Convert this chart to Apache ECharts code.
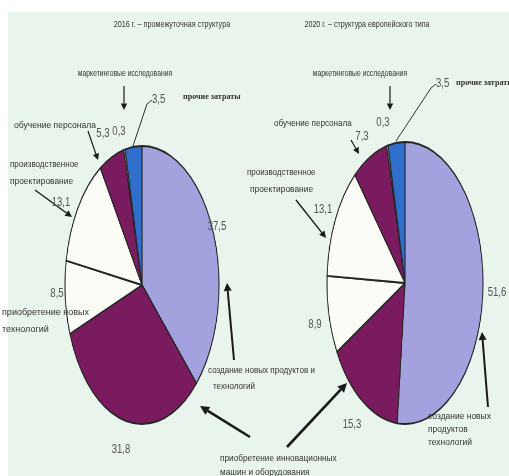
<!DOCTYPE html>
<html><head><meta charset="utf-8">
<script src="https://cdn.jsdelivr.net/npm/echarts@6/dist/echarts.min.js"></script>
<style>
html,body{margin:0;padding:0;background:#fff;}
#wrap{position:relative;width:509px;height:476px;overflow:hidden;}
#bg{position:absolute;left:8px;top:12px;right:0;bottom:0;background:#e9f4ec;}
.pie{position:absolute;width:300px;height:300px;}
#overlay{position:absolute;left:0;top:0;width:509px;height:476px;}
</style>
</head><body>
<div id="wrap">
  <div id="bg"></div>
  <div id="pie1" class="pie"></div>
  <div id="pie2" class="pie"></div>
  <div id="overlay"></div>
</div>
<script>
// ---- data ----
var categories = [
  'создание новых продуктов и технологий',
  'приобретение инновационных машин и оборудования',
  'приобретение новых технологий',
  'производственное проектирование',
  'обучение персонала',
  'маркетинговые исследования',
  'прочие затраты'
];
var values2016 = [37.5, 31.8, 8.5, 13.1, 5.3, 0.3, 3.5];
var values2020 = [51.6, 15.3, 8.9, 13.1, 7.3, 0.3, 3.5];
var titles = ['2016 г. – промежуточная структура', '2020 г. – структура европейского типа'];
var sliceColors = ['#a3a2de', '#7b1b5f', '#fbfcf6', '#fbfcf6', '#7b1b5f', '#d8cda4', '#2f6fcb'];

// ---- pies (circles stretched into ellipses) ----
function placePie(id, cx, cy, rx, ry) {
  var el = document.getElementById(id);
  el.style.left = (cx - 150) + 'px';
  el.style.top = (cy - 150) + 'px';
  el.style.transform = 'scaleX(' + (rx / ry) + ')';
  el.style.transformOrigin = '150px 150px';
  return ry;
}
function pieOption(values, r) {
  return {
    animation: false,
    series: [{
      type: 'pie',
      silent: true,
      center: ['50%', '50%'],
      radius: [0, r],
      startAngle: 90,
      clockwise: true,
      label: {show: false},
      labelLine: {show: false},
      itemStyle: {borderColor: '#262626', borderWidth: 1.8},
      data: categories.map(function (c, i) {
        return {name: c, value: values[i], itemStyle: {color: sliceColors[i]}};
      })
    }]
  };
}
var r1 = placePie('pie1', 142, 285, 77, 139);
var r2 = placePie('pie2', 405, 283, 78, 141);
echarts.init(document.getElementById('pie1'), null, {renderer: 'canvas'}).setOption(pieOption(values2016, r1));
echarts.init(document.getElementById('pie2'), null, {renderer: 'canvas'}).setOption(pieOption(values2020, r2));

// ---- annotations ----
var FONT = '"Liberation Sans Narrow", "Liberation Sans", Arial, sans-serif';
var TXT = '#333';
function fmt(v) { return String(v).replace('.', ','); }
function txt(s, x, y, opt) {
  opt = opt || {};
  return {
    type: 'text', x: x, y: y, silent: true,
    scaleX: opt.sx || 0.85,
    style: {
      text: s, fill: opt.color || TXT,
      font: (opt.weight || 'normal') + ' ' + (opt.size || 9) + 'px ' + (opt.family || FONT),
      textAlign: opt.align || 'left', textVerticalAlign: 'middle'
    }
  };
}
function num(v, x, y, size) { return txt(fmt(v), x, y, {size: size || 12, align: 'center', color: '#555', sx: 0.8}); }
function arrow(x1, y1, x2, y2, w) {
  w = w || 1.3;
  var a = Math.atan2(y2 - y1, x2 - x1), L = 4 + w * 2, H = 2 + w;
  var bx = x2 - L * Math.cos(a), by = y2 - L * Math.sin(a);
  return [
    {type: 'line', silent: true, shape: {x1: x1, y1: y1, x2: bx, y2: by}, style: {stroke: '#1a1a1a', lineWidth: w}},
    {type: 'polygon', silent: true, shape: {points: [[x2, y2],
      [bx + H * Math.sin(a), by - H * Math.cos(a)], [bx - H * Math.sin(a), by + H * Math.cos(a)]]},
      style: {fill: '#1a1a1a'}}
  ];
}
function leader(pts) {
  return {type: 'polyline', silent: true, shape: {points: pts}, style: {stroke: '#333', lineWidth: 1, fill: null}};
}

var g = [];
// titles
g.push(txt(titles[0], 172, 25, {align: 'center', size: 9, sx: 0.8}));
g.push(txt(titles[1], 367, 25, {align: 'center', size: 9, sx: 0.79}));

// ----- left pie (2016) -----
g.push(txt('маркетинговые исследования', 125, 74, {align: 'center', size: 8.5, sx: 0.8}));
g = g.concat(arrow(124, 86, 124, 110, 1.2));
g.push(leader([[133, 146], [147, 104], [152, 100]]));
g.push(txt(fmt(values2016[6]), 152, 100, {size: 12, color: '#555', sx: 0.8}));
g.push(txt('прочие затраты', 183, 97, {size: 8.5, weight: 'bold', family: '"Liberation Serif", serif', color: '#333', sx: 0.95}));
g.push(num(values2016[4], 103, 134, 12));
g.push(num(values2016[5], 119, 132, 12));
g.push(txt('обучение персонала', 14, 126, {size: 9, sx: 0.95}));
g = g.concat(arrow(88, 131, 98, 160, 1.2));
g.push(txt('производственное', 10, 165, {size: 9, sx: 0.89}));
g.push(txt('проектирование', 10, 182, {size: 9, sx: 0.93}));
g = g.concat(arrow(35, 190, 72, 217, 1.4));
g.push(num(values2016[3], 61, 203, 12));
g.push(num(values2016[0], 217, 227, 12));
g.push(num(values2016[2], 57, 294, 12));
g.push(txt('приобретение новых', 2, 313, {size: 9, sx: 1}));
g.push(txt('технологий', 2, 330, {size: 9, sx: 1}));
g = g.concat(arrow(234, 360, 227, 283, 2));
g.push(txt('создание новых продуктов и', 208, 370, {size: 9.5, sx: 0.85}));
g.push(txt('технологий', 213, 386, {size: 9.5, sx: 0.85}));
g.push(num(values2016[1], 121, 450, 12));
g = g.concat(arrow(250, 437, 200, 406, 2.6));
g = g.concat(arrow(287, 447, 347, 383, 2.6));
g.push(txt('приобретение инновационных', 220, 458, {size: 9.5, sx: 0.87}));
g.push(txt('машин и оборудования', 220, 472, {size: 9.5, sx: 0.87}));

// ----- right pie (2020) -----
g.push(txt('маркетинговые исследования', 360, 74, {align: 'center', size: 8.5, sx: 0.8}));
g = g.concat(arrow(390, 86, 390, 110, 1.2));
g.push(leader([[396, 141], [431, 88], [436, 84]]));
g.push(txt(fmt(values2020[6]), 436, 84, {size: 12, color: '#555', sx: 0.8}));
g.push(txt('прочие затраты', 456, 83, {size: 8.5, weight: 'bold', family: '"Liberation Serif", serif', color: '#333', sx: 0.95}));
g.push(num(values2020[5], 383, 123, 12));
g.push(num(values2020[4], 362, 137, 12));
g.push(txt('обучение персонала', 274, 124, {size: 9, sx: 0.9}));
g = g.concat(arrow(351, 140, 359, 154, 1.2));
g.push(txt('производственное', 247, 173, {size: 9, sx: 0.89}));
g.push(txt('проектирование', 250, 190, {size: 9, sx: 0.93}));
g = g.concat(arrow(296, 200, 326, 238, 1.4));
g.push(num(values2020[3], 323, 210, 12));
g.push(num(values2020[0], 497, 293, 12));
g.push(num(values2020[2], 315, 325, 12));
g.push(num(values2020[1], 352, 425, 12));
g.push(txt('создание новых', 428, 417, {size: 9, sx: 0.94}));
g.push(txt('продуктов', 428, 430, {size: 9, sx: 0.94}));
g.push(txt('технологий', 428, 443, {size: 9, sx: 0.94}));
g = g.concat(arrow(488, 407, 482, 332, 2));

var ov = echarts.init(document.getElementById('overlay'), null, {renderer: 'canvas'});
ov.setOption({animation: false, backgroundColor: 'transparent', graphic: {elements: g}});
</script>
</body></html>
